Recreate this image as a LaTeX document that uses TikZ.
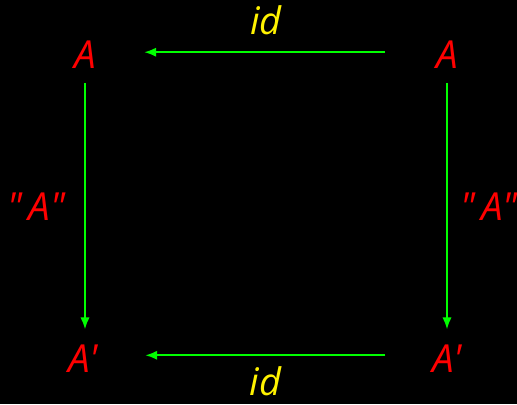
\documentclass[tikz,border=0pt]{standalone}
\usepackage{fontspec}
\newfontfamily\diagfont{Open Sans}
\usetikzlibrary{arrows.meta}
\begin{document}
\begin{tikzpicture}[x=0.75pt,y=-0.75pt,
  obj/.style={text=red,inner sep=0pt,font=\diagfont\itshape\fontsize{29}{34}\selectfont},
  lbl/.style={text=yellow,inner sep=0pt,font=\diagfont\itshape\fontsize{28.5}{34}\selectfont},
  map/.style={draw=green,line width=1.6pt,-{Latex[length=9pt,width=7pt]}}]
% Fondo
\fill[black] (0,0) rectangle (517,404);
\useasboundingbox (0,0) rectangle (517,404);
% Objetos
\node[obj,anchor=base] (tl) at (85,68) {A};
\node[obj,anchor=base] (tr) at (447,68) {A};
\node[obj,anchor=base west] (bl) at (68,372) {A\textquotesingle};
\node[obj,anchor=base west] (br) at (432,372) {A\textquotesingle};
% Flechas
\draw[map,shorten <=38pt,shorten >=36pt] ([yshift=1.5pt]tr.west) -- ([yshift=1.5pt]tl.east)
  node[lbl,midway,above=12pt] (idtop) {id};
\draw[map,shorten <=35pt,shorten >=35pt] ([yshift=2.2pt]br.west) -- ([yshift=2.2pt]bl.east)
  node[lbl,midway,below=7.5pt] (idbot) {id};
\draw[map,shorten <=11pt,shorten >=11pt] (tl.south) -- (tl.south |- bl.north)
  node[obj,midway,left=14pt] (fl) {\textquotedbl\,A\textquotedbl};
\draw[map,shorten <=11pt,shorten >=11pt] (tr.south) -- (tr.south |- br.north)
  node[obj,midway,right=9pt] (fr) {\textquotedbl\,A\textquotedbl};
\end{tikzpicture}
\end{document}
